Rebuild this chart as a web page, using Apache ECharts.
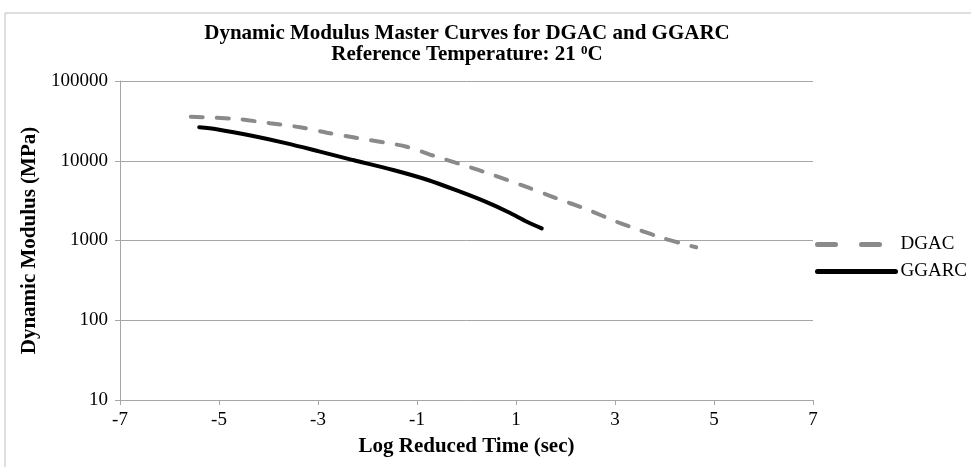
<!DOCTYPE html>
<html>
<head>
<meta charset="utf-8">
<script src="https://cdn.jsdelivr.net/npm/echarts@6/dist/echarts.min.js"></script>
<style>
  html, body { margin: 0; padding: 0; background: #fff; }
  #chart { width: 971px; height: 467px; }
</style>
</head>
<body>
<div id="chart"></div>
<script>
// log reduced time (sec) / dynamic modulus (MPa)
var dgacTime = [-5.57, -4.64, -3.97, -3.36, -2.82, -2.29, -1.68, -1.21, -0.67, -0.07, 0.54, 1.24, 1.82, 2.43, 3.03, 3.44, 3.91, 4.45, 4.64];
var dgacModulus = [35600, 33400, 29500, 26300, 22500, 19700, 17000, 15000, 11600, 8850, 6630, 4620, 3380, 2460, 1720, 1390, 1100, 879, 822];
var ggarcTime = [-5.40, -5.05, -4.31, -3.63, -2.96, -2.29, -1.48, -0.78, -0.13, 0.37, 0.84, 1.22, 1.52];
var ggarcModulus = [26300, 24800, 20400, 16500, 13000, 10200, 7660, 5740, 4090, 3090, 2280, 1720, 1420];
var seriesNames = ["DGAC", "GGARC"];

function pairs(xs, ys) {
  var out = [];
  for (var i = 0; i < xs.length; i++) out.push([xs[i], ys[i]]);
  return out;
}

var chart = echarts.init(document.getElementById("chart"));
var serif = "'Liberation Serif', 'Times New Roman', serif";
var gridGray = "#a6a6a6";

var option = {
  backgroundColor: "#fff",
  animation: false,
  graphic: [{
    type: "rect",
    shape: { x: 5, y: 13, width: 1000, height: 500 },
    style: { fill: "none", stroke: "#bdbdbd", lineWidth: 1 },
    silent: true
  }],
  title: {
    left: 467,
    top: 23,
    padding: 0,
    textAlign: "center",
    text: "{t|Dynamic Modulus Master Curves for DGAC and GGARC}\n{t|Reference Temperature: 21 }{s|0}{t|C}",
    textStyle: {
      rich: {
        t: { fontFamily: serif, fontWeight: "bold", fontSize: 21, color: "#000", lineHeight: 21 },
        s: { fontFamily: serif, fontWeight: "bold", fontSize: 13, color: "#000", padding: [0, 0, 8, 0], lineHeight: 21 }
      }
    }
  },
  legend: {
    orient: "vertical",
    left: 810,
    top: 230,
    itemWidth: 78,
    itemHeight: 12,
    itemGap: 8,
    textStyle: { fontFamily: serif, fontSize: 19, color: "#000" },
    data: [
      { name: seriesNames[0], itemStyle: { opacity: 0 }, lineStyle: { width: 5, color: "#8a8a8a", type: [18, 26], cap: "round" } },
      { name: seriesNames[1], itemStyle: { opacity: 0 }, lineStyle: { width: 5, color: "#000", cap: "round" } }
    ]
  },
  grid: { left: 120, right: 158, top: 81, bottom: 67 },
  xAxis: {
    type: "value",
    min: -7,
    max: 7,
    interval: 2,
    name: "Log Reduced Time (sec)",
    nameLocation: "middle",
    nameGap: 36,
    nameTextStyle: { fontFamily: serif, fontWeight: "bold", fontSize: 21, color: "#000" },
    axisLine: { lineStyle: { color: gridGray } },
    axisTick: { length: 5, lineStyle: { color: gridGray } },
    axisLabel: { fontFamily: serif, fontSize: 19, color: "#000", margin: 11 },
    splitLine: { show: false }
  },
  yAxis: {
    type: "log",
    logBase: 10,
    min: 10,
    max: 100000,
    name: "Dynamic Modulus (MPa)",
    nameLocation: "middle",
    nameRotate: 90,
    nameGap: 73,
    nameTextStyle: { fontFamily: serif, fontWeight: "bold", fontSize: 21, color: "#000" },
    axisLine: { show: true, onZero: false, lineStyle: { color: gridGray } },
    axisTick: { show: true, length: 5, lineStyle: { color: gridGray } },
    axisLabel: {
      fontFamily: serif, fontSize: 19, color: "#000", margin: 12,
      formatter: function (v) { return String(Math.round(v)); }
    },
    splitLine: { lineStyle: { color: gridGray, width: 1 } },
    minorTick: { show: false }
  },
  series: [
    {
      name: seriesNames[0],
      type: "line",
      data: pairs(dgacTime, dgacModulus),
      smooth: 0.3,
      symbol: "none",
      lineStyle: { color: "#8a8a8a", width: 4, type: [12, 14], cap: "round" },
      itemStyle: { color: "#8a8a8a" }
    },
    {
      name: seriesNames[1],
      type: "line",
      data: pairs(ggarcTime, ggarcModulus),
      smooth: 0.3,
      symbol: "none",
      lineStyle: { color: "#000", width: 4, cap: "round" },
      itemStyle: { color: "#000" }
    }
  ]
};

chart.setOption(option);
</script>
</body>
</html>
